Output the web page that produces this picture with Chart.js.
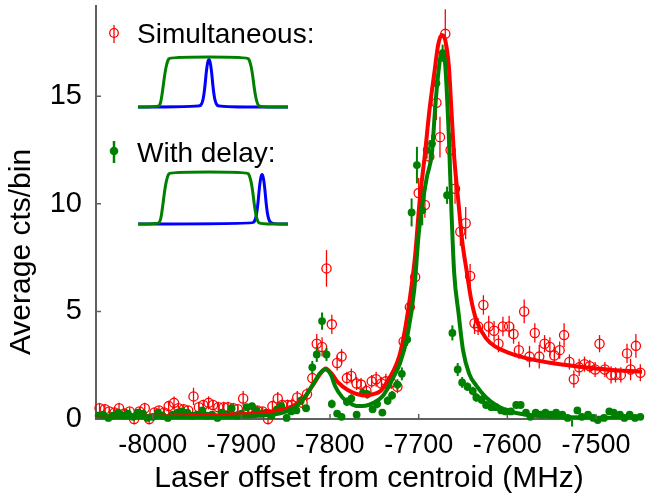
<!DOCTYPE html>
<html>
<head>
<meta charset="utf-8">
<script src="https://cdn.jsdelivr.net/npm/chart.js@4.4.0/dist/chart.umd.min.js"></script>
<style>
  html, body { margin: 0; padding: 0; background: #fff; }
  #wrap { width: 648px; height: 498px; }
</style>
</head>
<body>
<div id="wrap"><canvas id="c" width="648" height="498"></canvas></div>
<script>
// tick labels
const xTicks = [-8000, -7900, -7800, -7700, -7600, -7500];
const yTicks = [0, 5, 10, 15];

// "Simultaneous" data (open red circles)
const simX = [-8060,-8054,-8049,-8043,-8038,-8032,-8026,-8021,-8015,-8009,
  -8004,-7998,-7993,-7987,-7982,-7976,-7971,-7965,-7960,-7954,
  -7948,-7943,-7937,-7932,-7926,-7920,-7915,-7909,-7904,-7898,
  -7893,-7887,-7882,-7876,-7870,-7865,-7859,-7854,-7848,-7843,
  -7837,-7831,-7826,-7820,-7815,-7809,-7804,-7798,-7792,-7787,
  -7781,-7776,-7770,-7765,-7759,-7753,-7748,-7742,-7737,-7731,
  -7724,-7717,-7710,-7704,-7700,-7693,-7688,-7680,-7676,-7670,
  -7664,-7659,-7653,-7647,-7642,-7637,-7633,-7627,-7621,-7615,
  -7610,-7605,-7598,-7593,-7587,-7581,-7575,-7569,-7564,-7558,
  -7552,-7547,-7541,-7536,-7530,-7525,-7519,-7513,-7507,-7501,
  -7496,-7490,-7483,-7478,-7472,-7465,-7461,-7455,-7450];
const simY = [0.5,0.45,0.35,0.3,0.5,0.25,0.35,0.0,0.35,0.5,
  0.0,0.3,0.4,0.3,0.6,0.75,0.5,0.45,0.4,1.05,
  0.55,0.65,0.75,0.65,0.55,0.55,0.55,0.5,0.45,0.95,
  0.45,0.3,0.4,0.35,0.0,0.6,0.95,0.65,0.65,0.65,
  1.0,0.75,1.15,1.9,3.5,3.35,7.0,4.4,2.6,2.9,
  1.9,2.0,1.65,1.6,1.3,1.75,1.85,1.65,1.75,1.7,
  1.5,3.6,5.2,6.6,10.5,9.95,12.2,14.7,13.1,17.9,
  12.5,10.7,8.7,9.1,6.65,4.45,4.3,5.3,4.3,4.1,
  3.5,4.3,4.3,3.95,3.2,5.0,2.9,4.0,2.9,3.5,
  3.35,2.95,3.2,3.9,2.65,1.85,2.4,2.55,2.45,2.3,
  3.5,2.3,2.05,2.05,2.05,3.05,2.3,3.4,2.15];
const simErr = [0.25,0.2,0.2,0.2,0.25,0.2,0.2,0.25,0.2,0.25,
  0.25,0.2,0.2,0.2,0.25,0.3,0.25,0.2,0.2,0.4,
  0.25,0.25,0.3,0.25,0.25,0.25,0.25,0.25,0.2,0.35,
  0.25,0.2,0.2,0.2,0.25,0.25,0.3,0.25,0.25,0.3,
  0.3,0.3,0.3,0.35,0.45,0.45,0.85,0.45,0.35,0.35,
  0.3,0.35,0.3,0.3,0.3,0.3,0.35,0.3,0.35,0.3,
  0.3,0.4,0.5,0.55,0.7,0.6,0.75,0.8,0.95,1.15,
  0.8,0.7,0.65,0.75,0.55,0.5,0.4,0.45,0.5,0.45,
  0.4,0.45,0.5,0.45,0.4,0.55,0.5,0.45,0.55,0.4,
  0.45,0.4,0.4,0.55,0.35,0.4,0.4,0.35,0.3,0.35,
  0.4,0.35,0.4,0.35,0.35,0.45,0.5,0.55,0.4];

// "With delay" data (filled green dots)
const delX = [-8061,-8056,-8050,-8045,-8039,-8033,-8028,-8022,-8017,-8011,
  -8006,-8000,-7994,-7989,-7983,-7978,-7972,-7967,-7961,-7955,
  -7950,-7944,-7939,-7933,-7927,-7922,-7916,-7911,-7905,-7900,
  -7894,-7888,-7883,-7877,-7872,-7866,-7860,-7855,-7849,-7844,
  -7838,-7833,-7827,-7820,-7815,-7809,-7804,-7798,-7792,-7787,
  -7781,-7776,-7770,-7763,-7758,-7752,-7747,-7741,-7735,-7730,
  -7724,-7719,-7713,-7708,-7702,-7696,-7691,-7685,-7680,-7673,
  -7668,-7662,-7656,-7651,-7645,-7639,-7635,-7629,-7624,-7618,
  -7613,-7607,-7602,-7596,-7590,-7585,-7579,-7574,-7568,-7562,
  -7557,-7551,-7545,-7538,-7532,-7527,-7521,-7516,-7509,-7503,
  -7498,-7491,-7485,-7480,-7473,-7468,-7462,-7456,-7450];
const delY = [0.15,0.2,0.05,0.15,0.3,0.15,0.25,0.1,0.3,0.25,
  0.05,0.1,0.3,0.15,0.05,0.2,0.3,0.35,0.3,0.15,
  0.2,0.4,0.15,0.2,0.05,0.3,0.2,0.5,0.15,0.25,
  0.55,0.6,0.4,0.25,0.3,0.15,0.45,0.6,0.05,0.35,
  0.4,0.85,0.5,2.4,3.0,4.55,3.0,0.7,0.25,0.1,
  0.8,0.95,0.2,1.2,1.15,0.45,0.7,0.3,0.85,1.1,
  1.6,2.1,3.7,9.6,11.8,9.7,12.5,12.8,15.6,17.0,
  10.4,4.0,2.3,1.7,1.5,1.3,1.0,0.9,0.65,0.55,
  0.55,0.4,0.35,0.35,0.65,0.65,0.3,0.1,0.3,0.2,
  0.3,0.2,0.3,0.2,0.05,-0.2,0.4,0.1,0.2,0.05,
  -0.05,0.05,0.35,0.3,0.2,0.05,0.2,0.05,0.1];
const delErr = [0.15,0.15,0.15,0.15,0.15,0.15,0.15,0.15,0.15,0.15,
  0.15,0.15,0.15,0.15,0.15,0.15,0.15,0.15,0.15,0.15,
  0.15,0.15,0.15,0.15,0.15,0.15,0.15,0.15,0.15,0.15,
  0.15,0.15,0.15,0.15,0.15,0.15,0.15,0.15,0.15,0.15,
  0.15,0.2,0.15,0.3,0.35,0.4,0.3,0.2,0.15,0.15,
  0.2,0.2,0.15,0.2,0.2,0.15,0.2,0.15,0.2,0.2,
  0.25,0.3,0.3,0.65,0.85,0.7,0.4,0.4,0.4,0.4,
  0.4,0.35,0.3,0.25,0.2,0.2,0.2,0.2,0.15,0.15,
  0.15,0.15,0.15,0.15,0.15,0.15,0.15,0.15,0.15,0.15,
  0.15,0.15,0.15,0.15,0.15,0.15,0.15,0.15,0.15,0.15,
  0.15,0.15,0.15,0.15,0.15,0.15,0.15,0.15,0.15];

// fitted curves
const redFitX = [-8064,-8003,-7948,-7892,-7858,-7842,-7830,-7819,-7811,-7805,-7798,-7791,-7780,-7769,-7760,-7752,
  -7743,-7736,-7729,-7722,-7717,-7710,-7704,-7699,-7693,-7688,-7682,-7678,-7674,-7670,-7666,-7663,-7660,-7655,
  -7651,-7646,-7641,-7635,-7624,-7613,-7600,-7579,-7550,-7523,-7500,-7473,-7448];
const redFitY = [0.05,0.1,0.15,0.25,0.4,0.6,0.95,1.6,2.1,2.35,2.1,1.7,1.35,1.15,1.1,1.15,
  1.3,1.7,2.2,2.9,3.8,5.6,7.6,10.1,12.3,14.3,16.2,17.4,17.85,17.6,16.4,14.3,12.2,10.0,
  8.3,6.9,5.6,4.6,3.75,3.35,3.1,2.83,2.6,2.45,2.35,2.25,2.2];
const greenFitX = [-8064,-7948,-7881,-7853,-7838,-7827,-7818,-7811,-7805,-7799,-7794,-7786,-7778,-7769,-7760,
  -7751,-7742,-7736,-7729,-7721,-7713,-7705,-7700,-7695,-7691,-7685,-7681,-7676,-7673,-7670,-7666,-7663,-7660,
  -7655,-7650,-7643,-7635,-7624,-7613,-7602,-7590,-7574,-7546,-7501,-7448];
const greenFitY = [0.03,0.08,0.15,0.3,0.6,1.1,1.7,2.15,2.3,2.05,1.5,1.0,0.75,0.6,0.62,
  0.75,1.0,1.35,1.9,2.6,3.8,6.0,8.6,10.2,11.2,12.4,14.7,16.7,17.1,16.4,13.1,9.6,6.8,
  4.9,3.2,2.1,1.55,1.0,0.65,0.42,0.28,0.17,0.1,0.06,0.04];

// pulse sketches in the legend (normalised time, amplitude)
const gatePulse = [[0,0],[0.133,0],[0.15,0.06],[0.163,0.3],[0.18,0.7],[0.197,0.93],[0.215,1],
  [0.727,1],[0.745,0.93],[0.762,0.7],[0.778,0.3],[0.795,0.06],[0.813,0],[1,0]];
const probeShape = [[-0.07,0],[-0.045,0.06],[-0.03,0.3],[-0.015,0.8],[0,1],[0.015,0.8],[0.03,0.3],[0.045,0.06],[0.07,0]];
const probeCentre = [0.473, 0.827];

const RED = '#ff0000', GREEN = '#008000', BLUE = '#0000ff', AXIS = '#606060';
const FONT = "'Liberation Sans', Arial, sans-serif";

const zip = (xs, ys) => xs.map((x, i) => ({ x: x, y: ys[i] }));

// no extra room for half tick labels: the plot box fills the canvas
const noPad = s => { s.paddingTop = 0; s.paddingBottom = 0; s.paddingLeft = 0; s.paddingRight = 0; };

const errorBars = {
  id: 'errorBars',
  beforeDatasetDraw(chart, args) {
    const ds = chart.data.datasets[args.index];
    if (!ds.errs) return;
    const ctx = chart.ctx, ys = chart.scales.y;
    ctx.save();
    ctx.strokeStyle = ds.borderColor;
    ctx.lineWidth = ds.errWidth;
    args.meta.data.forEach((pt, i) => {
      const v = ds.data[i].y, e = ds.errs[i];
      ctx.beginPath();
      ctx.moveTo(pt.x, ys.getPixelForValue(v - e));
      ctx.lineTo(pt.x, ys.getPixelForValue(v + e));
      ctx.stroke();
    });
    ctx.restore();
  }
};

const innerTicks = {
  id: 'innerTicks',
  afterDatasetsDraw(chart) {
    const ctx = chart.ctx, a = chart.chartArea, xs = chart.scales.x, ys = chart.scales.y;
    ctx.save();
    ctx.strokeStyle = AXIS;
    ctx.lineWidth = 1.5;
    ctx.beginPath();
    yTicks.forEach(v => { const p = ys.getPixelForValue(v); ctx.moveTo(a.left, p); ctx.lineTo(a.left + 5, p); });
    xTicks.forEach(v => { const p = xs.getPixelForValue(v); ctx.moveTo(p, a.bottom); ctx.lineTo(p, a.bottom - 5); });
    ctx.stroke();
    // y title sits a little below the middle of the axis, as in the figure
    ctx.fillStyle = '#000';
    ctx.font = '30px ' + FONT;
    ctx.textAlign = 'center';
    ctx.textBaseline = 'middle';
    ctx.translate(22, 252);
    ctx.rotate(-Math.PI / 2);
    ctx.fillText('Average cts/bin', 0, 0);
    ctx.restore();
  }
};

function smoothPath(ctx, pts) {
  ctx.beginPath();
  ctx.moveTo(pts[0][0], pts[0][1]);
  for (let i = 1; i < pts.length - 1; i++) {
    const mx = (pts[i][0] + pts[i + 1][0]) / 2, my = (pts[i][1] + pts[i + 1][1]) / 2;
    ctx.quadraticCurveTo(pts[i][0], pts[i][1], mx, my);
  }
  const l = pts[pts.length - 1];
  ctx.lineTo(l[0], l[1]);
  ctx.stroke();
}

const legendSketch = {
  id: 'legendSketch',
  afterDraw(chart) {
    const ctx = chart.ctx;
    ctx.save();
    // markers
    ctx.strokeStyle = RED; ctx.lineWidth = 1.3;
    ctx.beginPath(); ctx.moveTo(114, 25); ctx.lineTo(114, 43); ctx.stroke();
    ctx.beginPath(); ctx.arc(114, 33, 4.3, 0, Math.PI * 2); ctx.stroke();
    ctx.strokeStyle = GREEN; ctx.fillStyle = GREEN; ctx.lineWidth = 2.5;
    ctx.beginPath(); ctx.moveTo(114, 141); ctx.lineTo(114, 163); ctx.stroke();
    ctx.beginPath(); ctx.arc(114, 151, 4.3, 0, Math.PI * 2); ctx.fill();
    // labels
    ctx.fillStyle = '#000';
    ctx.font = '28px ' + FONT;
    ctx.textBaseline = 'alphabetic';
    ctx.fillText('Simultaneous:', 137, 43);
    ctx.fillText('With delay:', 137, 162);
    // pulse sketches
    const boxes = [{ l: 138, r: 288, b: 107, t: 57 }, { l: 138, r: 288, b: 224, t: 172 }];
    ctx.lineWidth = 3; ctx.lineJoin = 'round'; ctx.lineCap = 'butt';
    boxes.forEach((bx, k) => {
      const px = u => bx.l + u * (bx.r - bx.l), py = v => bx.b - v * (bx.b - bx.t);
      const c = probeCentre[k];
      const probe = [[0, 0]].concat(probeShape.map(p => [c + p[0], p[1]]), [[1, 0]]);
      ctx.strokeStyle = BLUE;
      smoothPath(ctx, probe.map(p => [px(p[0]), py(p[1])]));
      ctx.strokeStyle = GREEN;
      smoothPath(ctx, gatePulse.map(p => [px(p[0]), py(p[1])]));
    });
    ctx.restore();
  }
};

new Chart(document.getElementById('c'), {
  type: 'line',
  data: {
    datasets: [
      { label: 'fit delay', data: zip(greenFitX, greenFitY), borderColor: GREEN, borderWidth: 4,
        pointRadius: 0, cubicInterpolationMode: 'monotone', fill: false },
      { label: 'fit simultaneous', data: zip(redFitX, redFitY), borderColor: RED, borderWidth: 4,
        pointRadius: 0, cubicInterpolationMode: 'monotone', fill: false },
      { label: 'With delay', data: zip(delX, delY), errs: delErr, errWidth: 2, showLine: false,
        borderColor: GREEN, backgroundColor: GREEN, pointRadius: 3.9, pointBorderWidth: 0, clip: false },
      { label: 'Simultaneous', data: zip(simX, simY), errs: simErr, errWidth: 1.3, showLine: false,
        borderColor: RED, backgroundColor: 'rgba(0,0,0,0)', pointRadius: 4.6, pointBorderWidth: 1.3, clip: false }
    ]
  },
  options: {
    responsive: false,
    animation: false,
    devicePixelRatio: 1,
    layout: { padding: 0 },
    plugins: { legend: { display: false }, tooltip: { enabled: false } },
    scales: {
      x: {
        type: 'linear', min: -8064, max: -7448,
        afterBuildTicks: s => { s.ticks = xTicks.map(v => ({ value: v })); },
        afterFit: s => { s.height = 79; noPad(s); },
        grid: { display: false, drawTicks: false },
        border: { color: AXIS, width: 2 },
        ticks: { autoSkip: false, maxRotation: 0, padding: 10, color: '#000',
          font: { family: FONT, size: 27 }, callback: v => String(v) },
        title: { display: true, text: 'Laser offset from centroid (MHz)', color: '#000',
          font: { family: FONT, size: 30 }, padding: { top: 0, bottom: 1 } }
      },
      y: {
        type: 'linear', min: 0, max: 19.2,
        afterBuildTicks: s => { s.ticks = yTicks.map(v => ({ value: v })); },
        afterFit: s => { s.width = 96; noPad(s); },
        grid: { display: false, drawTicks: false },
        border: { color: AXIS, width: 2 },
        ticks: { padding: 14, color: '#000', font: { family: FONT, size: 29 }, callback: v => String(v) },
        title: { display: false }
      }
    }
  },
  plugins: [errorBars, innerTicks, legendSketch]
});
</script>
</body>
</html>
